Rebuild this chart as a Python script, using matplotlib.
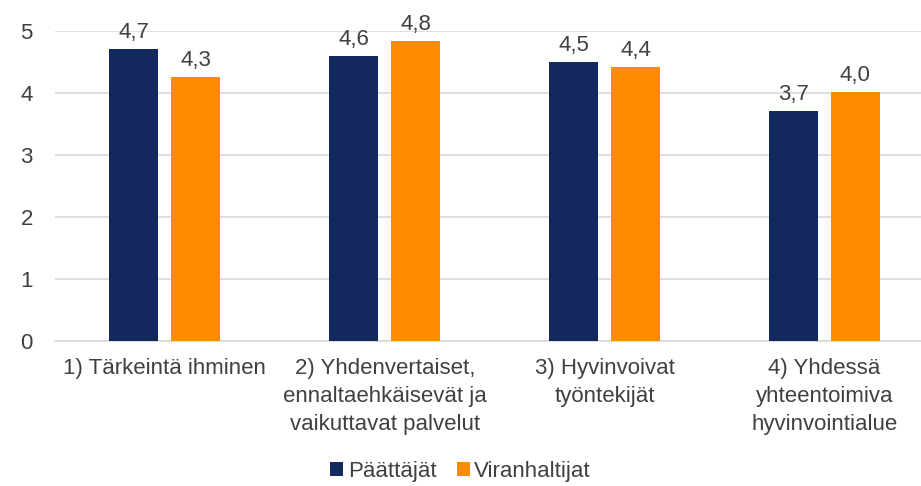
import numpy as np
import matplotlib
matplotlib.use('Agg')
import matplotlib.pyplot as plt

plt.rcParams['font.family'] = ['Liberation Sans', 'DejaVu Sans']

# Data
categories = ['1) Tärkeintä ihminen',
              '2) Yhdenvertaiset,\nennaltaehkäisevät ja\nvaikuttavat palvelut',
              '3) Hyvinvoivat\ntyöntekijät',
              '4) Yhdessä\nyhteentoimiva\nhyvinvointialue']
paattajat = [4.71, 4.60, 4.50, 3.71]
viranhaltijat = [4.26, 4.84, 4.42, 4.02]
series_names = ['Päättäjät', 'Viranhaltijat']

navy = '#13285E'
orange = '#FF8C00'
text_col = '#404040'
fs = 16

fig = plt.figure(figsize=(9.21, 4.86), dpi=100)
ax = fig.add_axes([55 / 921, 145 / 486, 866 / 921, 310 / 486])

x = np.arange(len(categories))
w = 0.223
off = 0.141
b1 = ax.bar(x - off, paattajat, w, color=navy, label=series_names[0], zorder=3)
b2 = ax.bar(x + off, viranhaltijat, w, color=orange, label=series_names[1], zorder=3)

for bars in (b1, b2):
    for r in bars:
        v = r.get_height()
        ax.annotate(f'{v:.1f}'.replace('.', ','),
                    (r.get_x() + r.get_width() / 2, v),
                    xytext=(0, 8), textcoords='offset points',
                    ha='center', va='baseline', fontsize=fs, color=text_col,
                    annotation_clip=False)

ax.set_xlim(-0.5, 3.44)
ax.set_ylim(0, 5)
ax.set_yticks(range(0, 6))
ax.yaxis.grid(True, color='#D9D9D9', linewidth=1.2, zorder=0)
ax.set_axisbelow(True)
for s in ['top', 'right', 'left']:
    ax.spines[s].set_visible(False)
ax.spines['bottom'].set_color('#D9D9D9')
ax.spines['bottom'].set_linewidth(1.2)
ax.tick_params(axis='both', length=0, labelsize=fs, colors=text_col)
ax.tick_params(axis='y', pad=16)
ax.tick_params(axis='x', pad=12)
ax.set_xticks(x)
ax.set_xticklabels(categories, linespacing=1.45, va='top')

leg = fig.legend(handles=[b1, b2], labels=series_names, loc='center',
                 bbox_to_anchor=(0.5, 15 / 486), ncol=2, frameon=False,
                 fontsize=fs, handlelength=0.6, handleheight=0.6,
                 handletextpad=0.2, columnspacing=0.9)
for t in leg.get_texts():
    t.set_color(text_col)

fig.savefig('out.png', dpi=100)
